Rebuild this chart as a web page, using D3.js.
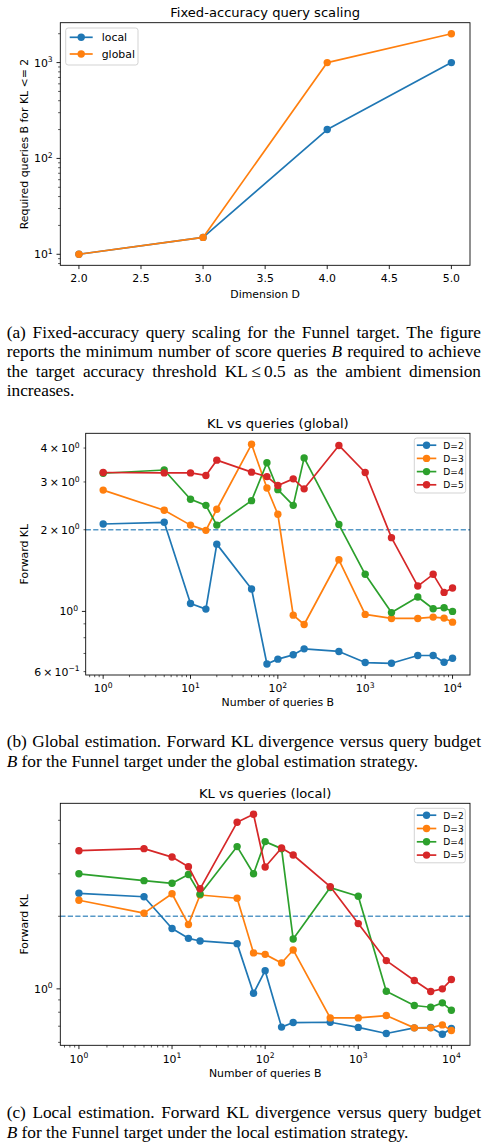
<!DOCTYPE html>
<html>
<head>
<meta charset="utf-8">
<script src="https://cdn.jsdelivr.net/npm/d3@7"></script>
<style>
  html, body { margin: 0; padding: 0; background: #fff; }
  svg { display: block; }
  text { font-family: "DejaVu Sans", sans-serif; fill: #000; }
  .cap { font-family: "Liberation Serif", "Times New Roman", serif; }
</style>
</head>
<body>
<script>
// ---- data ----
var dims = [2, 3, 4, 5];
var localQueries = [10, 15, 200, 1000];
var globalQueries = [10, 15, 1000, 2000];
var dimTicks = [2.0, 2.5, 3.0, 3.5, 4.0, 4.5, 5.0];

var budgets = [1, 5, 10, 15, 20, 50, 75, 100, 150, 200, 500, 1000, 2000, 4000, 6000, 8000, 10000];
var dimLabels = ["D=2", "D=3", "D=4", "D=5"];
var klThreshold = 2;

var globalKL_D2 = [2.10, 2.13, 1.07, 1.02, 1.77, 1.21, 0.64, 0.667, 0.692, 0.728, 0.712, 0.648, 0.644, 0.688, 0.688, 0.65, 0.672];
var globalKL_D3 = [2.80, 2.36, 2.08, 1.99, 2.38, 4.13, 2.85, 2.28, 0.969, 0.895, 1.55, 0.975, 0.942, 0.942, 0.953, 0.945, 0.913];
var globalKL_D4 = [3.23, 3.32, 2.59, 2.46, 2.08, 2.56, 3.53, 2.81, 2.46, 3.68, 2.09, 1.37, 0.99, 1.13, 1.023, 1.032, 1.0];
var globalKL_D5 = [3.25, 3.24, 3.24, 3.17, 3.61, 3.26, 3.14, 2.91, 3.08, 2.83, 4.09, 3.25, 1.87, 1.24, 1.37, 1.175, 1.22];

var localKL_D2 = [2.49, 2.41, 1.78, 1.62, 1.58, 1.54, 0.959, 1.19, 0.694, 0.725, 0.727, 0.692, 0.653, 0.689, 0.691, 0.648, 0.685];
var localKL_D3 = [2.33, 2.06, 2.48, 1.85, 2.45, 2.375, 1.41, 1.39, 1.28, 1.45, 0.758, 0.758, 0.775, 0.689, 0.689, 0.709, 0.672];
var localKL_D4 = [3.0, 2.81, 2.74, 2.98, 2.47, 3.89, 3.0, 4.08, 3.815, 1.61, 2.63, 2.42, 0.977, 0.853, 0.839, 0.875, 0.815];
var localKL_D5 = [3.74, 3.815, 3.52, 3.21, 2.6, 4.905, 5.295, 3.2, 3.84, 3.59, 2.655, 1.865, 1.31, 1.083, 0.975, 1.0, 1.093];

var colors = ["#1f77b4", "#ff7f0e", "#2ca02c", "#d62728"];

var W = 488, H = 1148;
var svg = d3.select("body").append("svg").attr("width", W).attr("height", H);

var TICK_FS = 10.9, TITLE_FS = 13.1, LABEL_FS = 10.9;
var MAJ_LEN = 3.8, MIN_LEN = 2.2;

// pad a log domain by 5% on each side like matplotlib
function logDomain(vals){
	var ext = d3.extent(vals);
	var a = Math.log10(ext[0]), b = Math.log10(ext[1]);
	var m = (b - a) * 0.05;
	return [Math.pow(10, a - m), Math.pow(10, b + m)];
}
function linDomain(vals){
	var ext = d3.extent(vals);
	var m = (ext[1] - ext[0]) * 0.05;
	return [ext[0] - m, ext[1] + m];
}

// minor log ticks (2..9 per decade) inside the domain
function logMinor(dom){
	var out = [];
	for(var e = Math.floor(Math.log10(dom[0])); e <= Math.ceil(Math.log10(dom[1])); e++){
		for(var k = 2; k <= 9; k++){
			var v = k * Math.pow(10, e);
			if(v >= dom[0] && v <= dom[1]) out.push(v);
		}
	}
	return out;
}
function logMajor(dom){
	var out = [];
	for(var e = Math.ceil(Math.log10(dom[0]) - 1e-9); Math.pow(10, e) <= dom[1]; e++){
		out.push(Math.pow(10, e));
	}
	return out;
}

// writes "m × 10^e" (mantissa optional) as text + tspans
function sciText(sel, v){
	var e = Math.floor(Math.log10(v) + 1e-9);
	var m = Math.round(v / Math.pow(10, e));
	var expTxt = (e < 0 ? "\u2212" : "") + Math.abs(e);
	if(m != 1){
		sel.append("tspan").text(m + "\u2009\u00d7\u200910");
	}else{
		sel.append("tspan").text("10");
	}
	sel.append("tspan")
		.attr("font-size", TICK_FS * 0.7)
		.attr("dy", -TICK_FS * 0.4)
		.text(expTxt);
}

function drawPanel(opt){
	var f = opt.frame;
	var g = svg.append("g");
	var x = opt.x, y = opt.y;

	// x ticks
	opt.xTicks.forEach(function(t){
		var px = x(t.v);
		var len = t.major ? MAJ_LEN : MIN_LEN;
		g.append("line")
			.attr("x1", px).attr("x2", px)
			.attr("y1", f.b).attr("y2", f.b + len)
			.attr("stroke", "#000")
			.attr("stroke-width", t.major ? 0.87 : 0.65);
		if(t.label){
			var tx = g.append("text")
					.attr("x", px)
					.attr("y", f.b + (t.sci ? 17.3 : 16.4))
					.attr("text-anchor", "middle")
					.attr("font-size", TICK_FS);
			if(t.sci){ sciText(tx, t.v); }else{ tx.text(t.label); }
		}
	});

	// y ticks
	opt.yTicks.forEach(function(t){
		var py = y(t.v);
		var len = t.major ? MAJ_LEN : MIN_LEN;
		g.append("line")
			.attr("x1", f.l - len).attr("x2", f.l)
			.attr("y1", py).attr("y2", py)
			.attr("stroke", "#000")
			.attr("stroke-width", t.major ? 0.87 : 0.65);
		if(t.label){
			var ty = g.append("text")
					.attr("x", f.l - (t.major ? 7.6 : 6.0))
					.attr("y", py + TICK_FS * 0.364)
					.attr("text-anchor", "end")
					.attr("font-size", TICK_FS);
			if(t.sci){ sciText(ty, t.v); }else{ ty.text(t.label); }
		}
	});

	// threshold line
	if(opt.hline != null){
		g.append("line")
			.attr("x1", f.l).attr("x2", f.r)
			.attr("y1", y(opt.hline)).attr("y2", y(opt.hline))
			.attr("stroke", colors[0])
			.attr("stroke-opacity", 0.75)
			.attr("stroke-width", 1.4)
			.attr("stroke-dasharray", "5.2,2.3");
	}

	var line = d3.line()
				.x(function(d){ return x(d[0]); })
				.y(function(d){ return y(d[1]); });

	opt.series.forEach(function(s){
		var pts = d3.zip(s.xs, s.ys);
		g.append("path")
			.attr("d", line(pts))
			.attr("fill", "none")
			.attr("stroke", s.color)
			.attr("stroke-width", 1.7)
			.attr("stroke-linejoin", "round");
		g.selectAll(null)
			.data(pts)
			.enter()
			.append("circle")
			.attr("cx", function(d){ return x(d[0]); })
			.attr("cy", function(d){ return y(d[1]); })
			.attr("r", 3.7)
			.attr("fill", s.color);
	});

	// frame
	g.append("rect")
		.attr("x", f.l).attr("y", f.t)
		.attr("width", f.r - f.l).attr("height", f.b - f.t)
		.attr("fill", "none")
		.attr("stroke", "#000")
		.attr("stroke-width", 0.87);

	// title + labels
	g.append("text")
		.attr("x", (f.l + f.r) / 2).attr("y", opt.titleY)
		.attr("text-anchor", "middle")
		.attr("font-size", TITLE_FS)
		.text(opt.title);
	g.append("text")
		.attr("x", (f.l + f.r) / 2).attr("y", opt.xLabelY)
		.attr("text-anchor", "middle")
		.attr("font-size", LABEL_FS)
		.text(opt.xLabel);
	g.append("text")
		.attr("transform", "translate(27.7," + ((f.t + f.b) / 2) + ") rotate(-90)")
		.attr("text-anchor", "middle")
		.attr("font-size", LABEL_FS)
		.text(opt.yLabel);

	// legend
	var lg = opt.legend;
	var box = g.append("g").attr("transform", "translate(" + lg.x + "," + lg.y + ")");
	box.append("rect")
		.attr("width", lg.w).attr("height", lg.h)
		.attr("rx", 2.5).attr("ry", 2.5)
		.attr("fill", "#fff").attr("fill-opacity", 0.8)
		.attr("stroke", "#cccccc").attr("stroke-width", 0.87);
	opt.series.forEach(function(s, i){
		var cy = lg.first + i * lg.row;
		box.append("line")
			.attr("x1", lg.lineX).attr("x2", lg.lineX + lg.lineW)
			.attr("y1", cy).attr("y2", cy)
			.attr("stroke", s.color).attr("stroke-width", 1.7);
		box.append("circle")
			.attr("cx", lg.lineX + lg.lineW / 2).attr("cy", cy)
			.attr("r", 3.7).attr("fill", s.color);
		box.append("text")
			.attr("x", lg.textX).attr("y", cy + lg.fs * 0.364)
			.attr("font-size", lg.fs)
			.text(s.name);
	});
}

// ---- panel (a) ----
var xA = d3.scaleLinear().domain(linDomain(dims)).range([60.3, 470]);
var yDomA = logDomain(localQueries.concat(globalQueries));
var yA = d3.scaleLog().domain(yDomA).range([265.3, 22.7]);

drawPanel({
	frame: {l: 60.3, r: 470, t: 22.7, b: 265.3},
	x: xA, y: yA,
	title: "Fixed-accuracy query scaling", titleY: 16.7,
	xLabel: "Dimension D", xLabelY: 298,
	yLabel: "Required queries B for KL <= 2",
	xTicks: dimTicks.map(function(v){ return {v: v, major: true, label: v.toFixed(1)}; }),
	yTicks: logMajor(yDomA).map(function(v){ return {v: v, major: true, label: true, sci: true}; })
			.concat(logMinor(yDomA).map(function(v){ return {v: v, major: false}; })),
	series: [
		{name: "local", color: colors[0], xs: dims, ys: localQueries},
		{name: "global", color: colors[1], xs: dims, ys: globalQueries}
	],
	legend: {x: 65.7, y: 28, w: 72.3, h: 37, first: 9.3, row: 16.7, lineX: 4, lineW: 23, textX: 36, fs: 10.9}
});

// ---- panels (b) and (c) share the budget axis ----
function budgetTicks(dom){
	return logMajor(dom).map(function(v){ return {v: v, major: true, label: true, sci: true}; })
			.concat(logMinor(dom).map(function(v){ return {v: v, major: false}; }));
}

var xDomBC = logDomain(budgets);

// (b) global
var globalSeries = [globalKL_D2, globalKL_D3, globalKL_D4, globalKL_D5];
var yDomB = logDomain(d3.merge(globalSeries).concat([klThreshold]));
var xB = d3.scaleLog().domain(xDomBC).range([85.7, 470]);
var yB = d3.scaleLog().domain(yDomB).range([675, 433.3]);
var labelledB = [0.6, 2, 3, 4];

drawPanel({
	frame: {l: 85.7, r: 470, t: 433.3, b: 675},
	x: xB, y: yB,
	title: "KL vs queries (global)", titleY: 427.5,
	xLabel: "Number of queries B", xLabelY: 706.3,
	yLabel: "Forward KL",
	xTicks: budgetTicks(xDomBC),
	yTicks: logMajor(yDomB).map(function(v){ return {v: v, major: true, label: true, sci: true}; })
			.concat(logMinor(yDomB).map(function(v){
				var lab = labelledB.some(function(c){ return Math.abs(c - v) < 1e-9; });
				return {v: v, major: false, label: lab, sci: lab};
			})),
	hline: klThreshold,
	series: globalSeries.map(function(ys, i){ return {name: dimLabels[i], color: colors[i], xs: budgets, ys: ys}; }),
	legend: {x: 414.3, y: 438, w: 51.4, h: 55, first: 7.2, row: 13.2, lineX: 2.5, lineW: 19.5, textX: 29, fs: 9.1}
});

// (c) local
var localSeries = [localKL_D2, localKL_D3, localKL_D4, localKL_D5];
var yDomC = logDomain(d3.merge(localSeries).concat([klThreshold]));
var xC = d3.scaleLog().domain(xDomBC).range([60.3, 470]);
var yC = d3.scaleLog().domain(yDomC).range([1045.3, 803.3]);

drawPanel({
	frame: {l: 60.3, r: 470, t: 803.3, b: 1045.3},
	x: xC, y: yC,
	title: "KL vs queries (local)", titleY: 797.5,
	xLabel: "Number of queries B", xLabelY: 1077,
	yLabel: "Forward KL",
	xTicks: budgetTicks(xDomBC),
	yTicks: logMajor(yDomC).map(function(v){ return {v: v, major: true, label: true, sci: true}; })
			.concat(logMinor(yDomC).map(function(v){ return {v: v, major: false}; })),
	hline: klThreshold,
	series: localSeries.map(function(ys, i){ return {name: dimLabels[i], color: colors[i], xs: budgets, ys: ys}; }),
	legend: {x: 414.3, y: 808.3, w: 51, h: 54.5, first: 6.9, row: 13.3, lineX: 2.5, lineW: 19.5, textX: 29, fs: 9.1}
});

// ---- captions ----
var CAP_FS = 17.3, CAP_L = 6.7, CAP_R = 481;
var captions = [
	{y: 337.5, lines: [
		[["(a) Fixed-accuracy query scaling for the Funnel target. The figure"]],
		[["reports the minimum number of score queries "], ["B", "i"], [" required to achieve"]],
		[["the target accuracy threshold KL\u2009\u2264\u20090.5 as the ambient dimension"]],
		[["increases."]]
	]},
	{y: 747.3, lines: [
		[["(b) Global estimation. Forward KL divergence versus query budget"]],
		[["B", "i"], [" for the Funnel target under the global estimation strategy."]]
	]},
	{y: 1118.3, lines: [
		[["(c) Local estimation. Forward KL divergence versus query budget"]],
		[["B", "i"], [" for the Funnel target under the local estimation strategy."]]
	]}
];

captions.forEach(function(cap){
	cap.lines.forEach(function(parts, i){
		var t = svg.append("text")
				.attr("class", "cap")
				.attr("x", CAP_L)
				.attr("y", cap.y + i * 19.5)
				.attr("font-size", CAP_FS);
		parts.forEach(function(p){
			t.append("tspan")
				.attr("font-style", p[1] == "i" ? "italic" : null)
				.text(p[0]);
		});
		// justify every line but the last one
		if(i < cap.lines.length - 1){
			var full = parts.map(function(p){ return p[0]; }).join("");
			var gaps = full.split(" ").length - 1;
			var w = t.node().getComputedTextLength();
			if(gaps > 0) t.attr("word-spacing", (CAP_R - CAP_L - w) / gaps);
		}
	});
});
</script>
</body>
</html>
